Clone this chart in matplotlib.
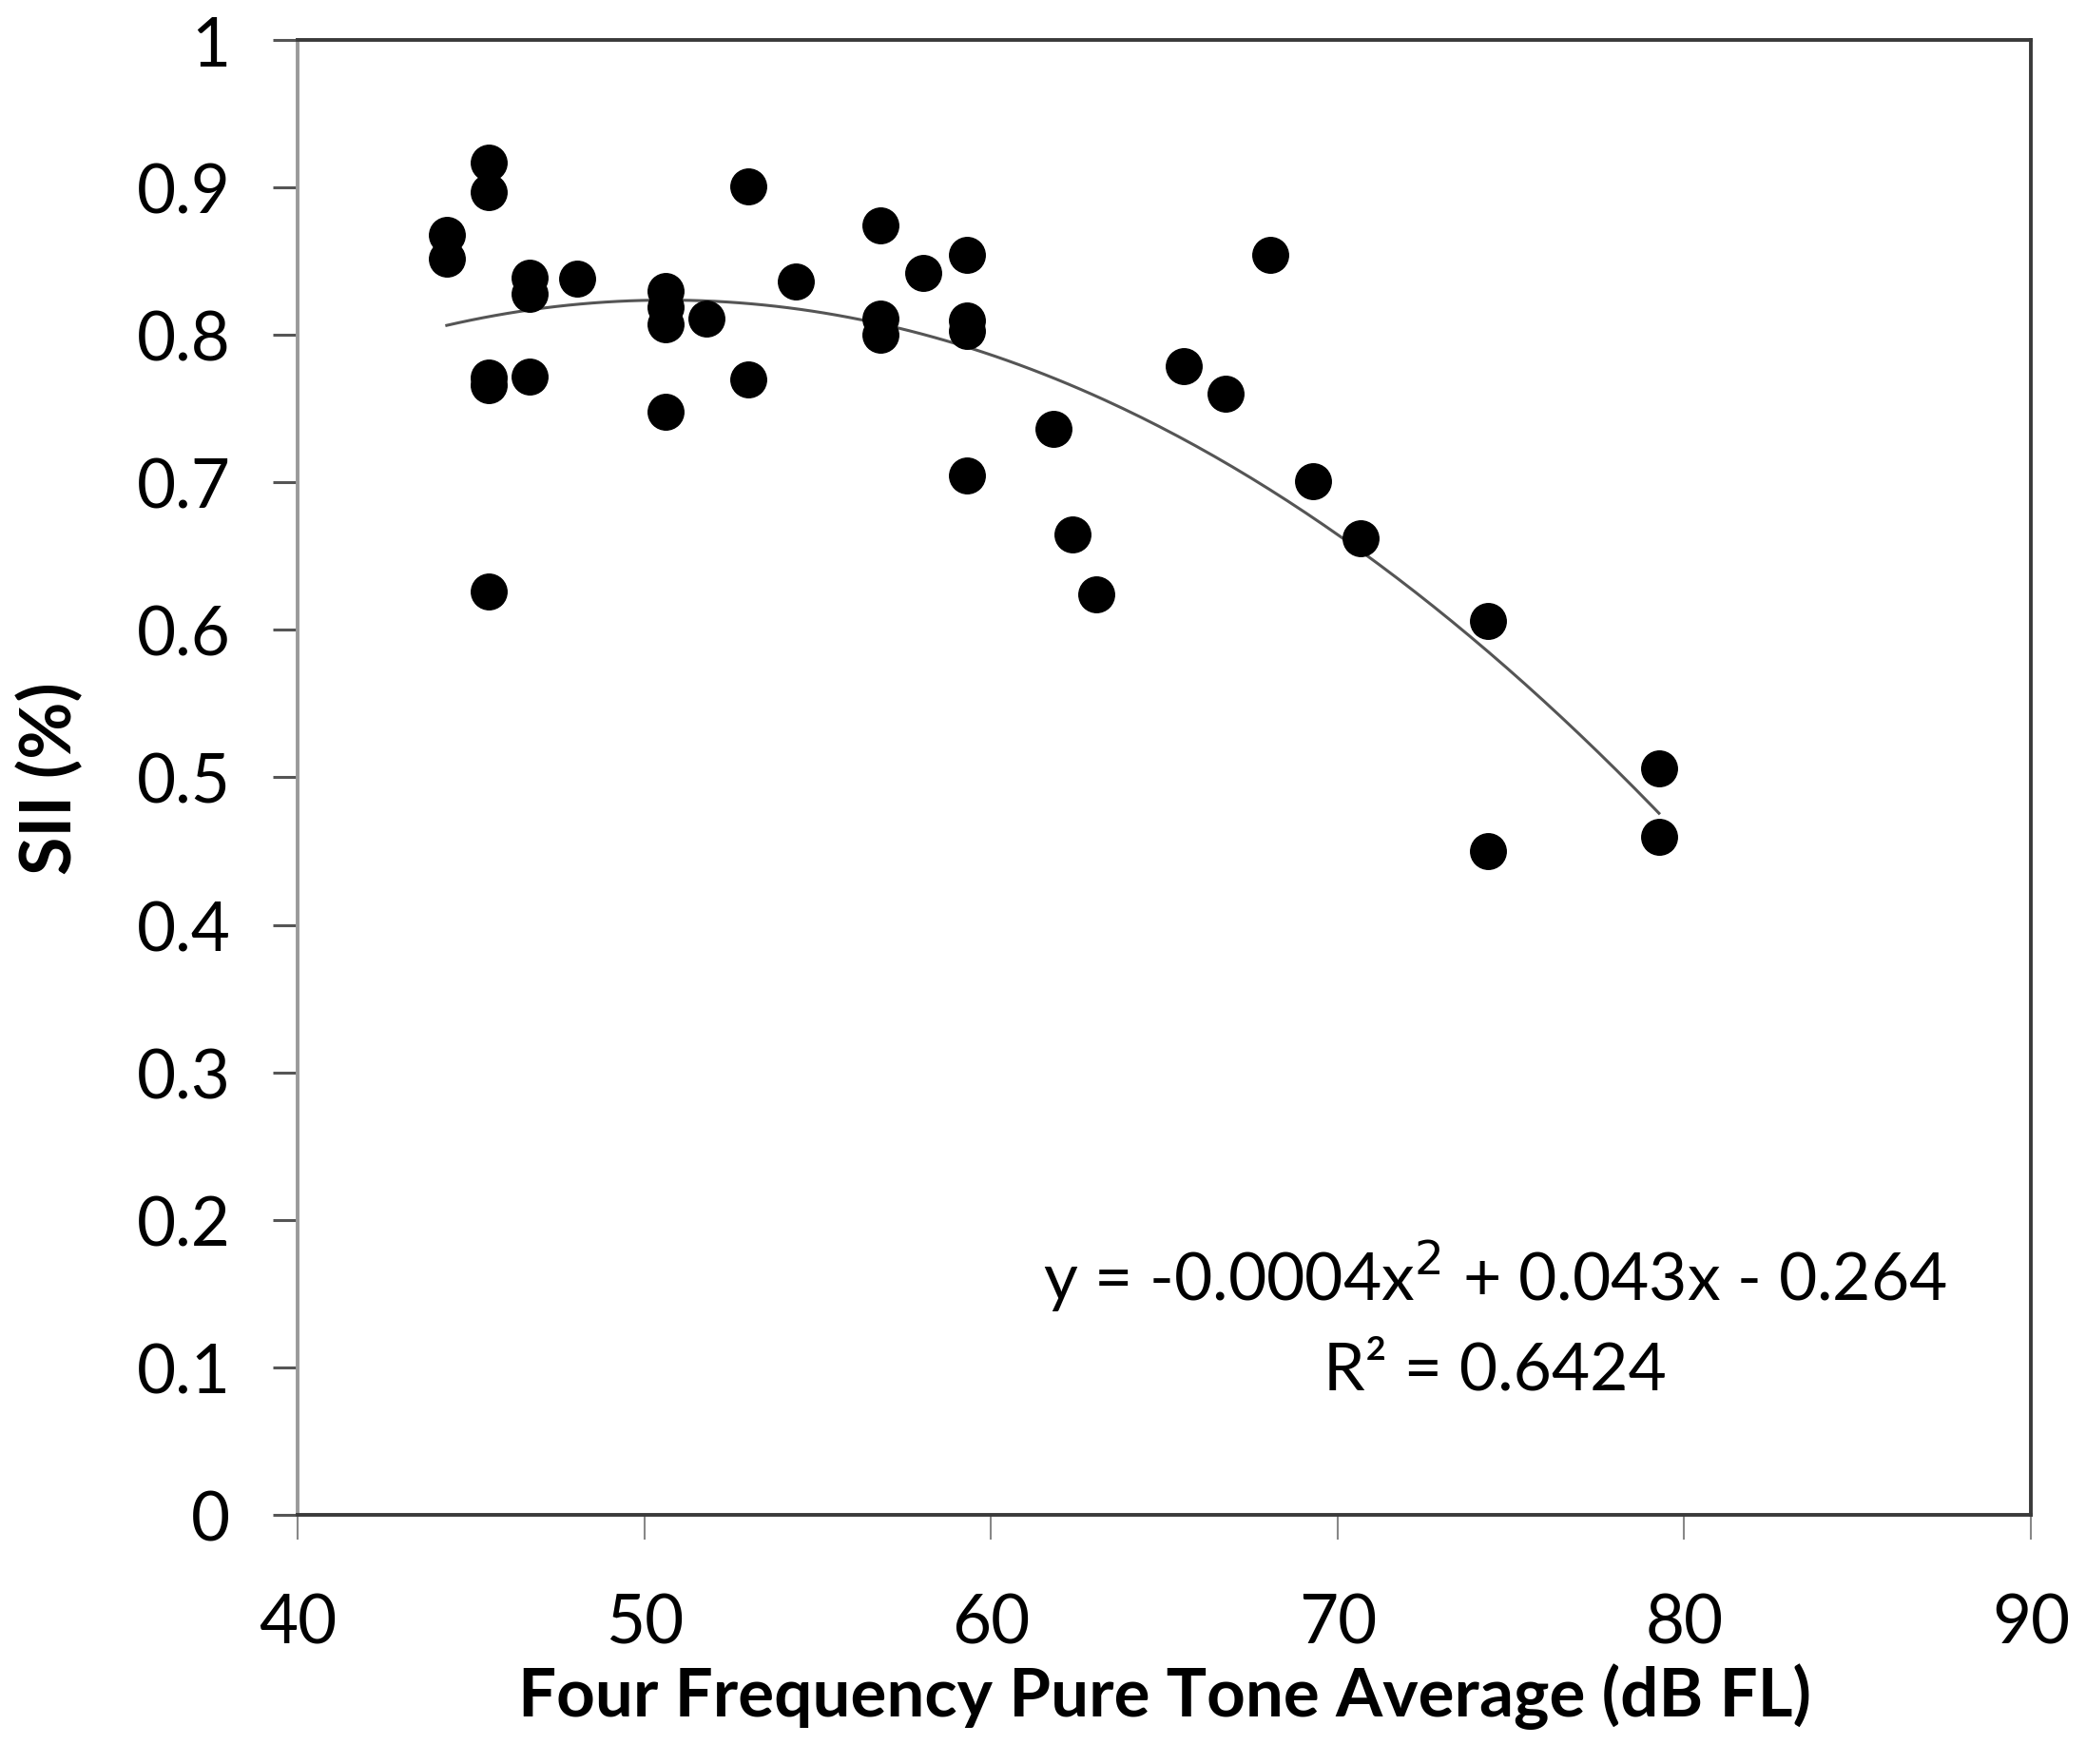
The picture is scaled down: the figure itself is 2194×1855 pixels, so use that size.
import numpy as np
import matplotlib.pyplot as plt

plt.rcParams['font.family'] = ['Lato', 'DejaVu Sans']

# four frequency PTA (dB FL) and SII
pta = [44.3, 44.3, 45.5, 45.5, 45.5, 45.5, 45.5, 46.7, 46.7, 46.7,
       48.05, 50.6, 50.6, 50.6, 50.6, 51.8, 53.0, 53.0, 54.37, 56.8,
       56.8, 56.8, 58.05, 59.3, 59.3, 59.3, 59.3, 61.8, 62.35, 63.05,
       65.55, 66.78, 68.06, 69.3, 70.65, 74.35, 74.35, 79.27, 79.27]
sii = [0.868, 0.852, 0.917, 0.897, 0.771, 0.766, 0.626, 0.839, 0.828, 0.772,
       0.838, 0.830, 0.819, 0.807, 0.748, 0.811, 0.901, 0.770, 0.836, 0.874,
       0.811, 0.800, 0.842, 0.854, 0.810, 0.803, 0.705, 0.736, 0.665, 0.624,
       0.779, 0.760, 0.854, 0.701, 0.662, 0.606, 0.450, 0.506, 0.460]

x_ticks = [40, 50, 60, 70, 80, 90]
y_ticks = [0, 0.1, 0.2, 0.3, 0.4, 0.5, 0.6, 0.7, 0.8, 0.9, 1]
y_labels = ['0', '0.1', '0.2', '0.3', '0.4', '0.5', '0.6', '0.7', '0.8', '0.9', '1']

pta = np.array(pta)
sii = np.array(sii)

fig = plt.figure(figsize=(21.94, 18.56), dpi=100)
ax = fig.add_axes([0.1427, 0.1412, 0.9736 - 0.1427, 0.9768 - 0.1412])

# quadratic trendline like excel
coef = np.polyfit(pta, sii, 2)
xs = np.linspace(pta.min(), pta.max(), 200)
ax.plot(xs, np.polyval(coef, xs), color='#555555', linewidth=2.2, zorder=2)

ax.plot(pta, sii, 'o', color='black', markersize=27, zorder=3)

ax.set_xlim(40, 90)
ax.set_ylim(0, 1)
ax.set_xticks(x_ticks)
ax.set_yticks(y_ticks)
ax.set_yticklabels(y_labels)

ax.spines['left'].set_color('#9a9a9a')
ax.spines['bottom'].set_color('#3a3a3a')
ax.spines['top'].set_color('#3a3a3a')
ax.spines['right'].set_color('#3a3a3a')
for s in ax.spines.values():
    s.set_linewidth(2.8)

ax.tick_params(axis='y', direction='out', length=19, width=2.2, color='#555555',
               labelsize=51, pad=32)
ax.tick_params(axis='x', direction='out', length=19, width=1.5, color='#888888',
               labelsize=51, pad=40)

ax.set_xlabel('Four Frequency Pure Tone Average (dB FL)', fontsize=51,
              fontweight='bold', labelpad=6)
ax.set_ylabel('SII (%)', fontsize=53, fontweight='bold', labelpad=40)

ax.text(0.691, 0.162, 'y = -0.0004x$^2$ + 0.043x - 0.264', transform=ax.transAxes,
        fontsize=50, ha='center', va='center')
ax.text(0.691, 0.098, 'R² = 0.6424', transform=ax.transAxes,
        fontsize=50, ha='center', va='center')

fig.savefig('out.png', dpi=100)
